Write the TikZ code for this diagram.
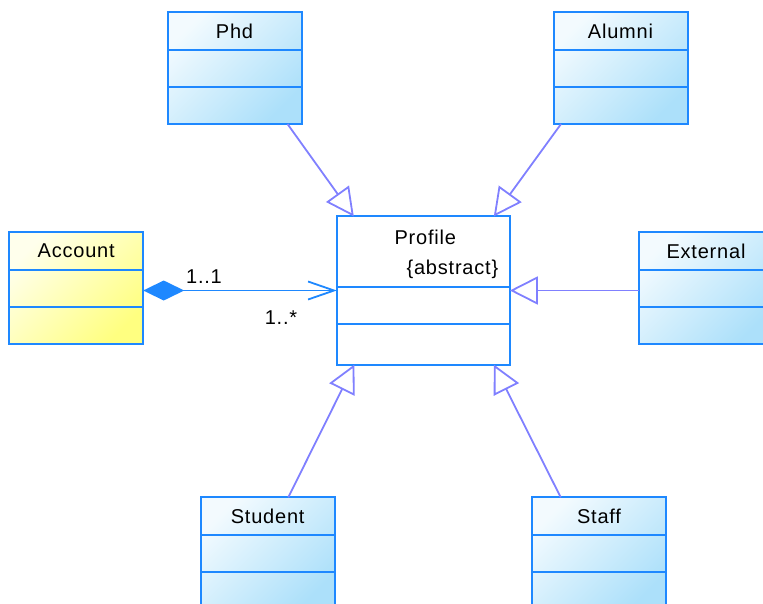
\documentclass[tikz,border=0pt]{standalone}
\usepackage{fontspec}
\setmainfont{Liberation Sans}[LetterSpace=4]
\usepackage{tikz}
\usetikzlibrary{arrows.meta}
\definecolor{classBorder}{RGB}{30,136,255}
\definecolor{classBlue}{RGB}{172,224,250}
\definecolor{classYellow}{RGB}{255,255,128}
\definecolor{linkColor}{RGB}{128,128,255}

\begin{document}
\begin{tikzpicture}[
  x=1pt, y=-1pt,
  font=\fontsize{20}{24}\selectfont,
  every umlclass/.style={
    draw=classBorder,
    line width=2pt,
    inner sep=0pt,
    outer sep=0pt,
    minimum width=134pt,
    minimum height=112pt,
  },
  blueclass/.style={
    every umlclass,
    top color=classBlue!15,
    bottom color=classBlue,
    shading angle=45,
  },
  yellowclass/.style={
    every umlclass,
    top color=classYellow!15,
    bottom color=classYellow,
    shading angle=45,
  },
  abstractclass/.style={
    every umlclass,
    fill=white,
    minimum width=173pt,
    minimum height=148pt,
  },
  divider/.style={
    draw=classBorder,
    line width=2pt,
  },
  generalization/.style={
    draw=linkColor,
    line width=1.8pt,
    -{Triangle[open,length=28pt,width=28pt]},
  },
  composition/.style={
    draw=classBorder,
    line width=1.8pt,
    {Diamond[length=41pt,width=20pt]}-{Straight Barb[length=26pt,width=18pt]},
  },
  mult/.style={
    inner sep=0pt,
  },
]
\useasboundingbox (0,0) rectangle (763,604);
\clip (0,0) rectangle (763,604);

% classes
\node[blueclass] (phd) at (234.5,68) {};
\node[blueclass] (alumni) at (620.5,68) {};
\node[yellowclass] (account) at (76.2,288) {};
\node[blueclass] (external) at (706,288) {};
\node[blueclass] (student) at (267.7,553.3) {};
\node[blueclass] (staff) at (599,553.3) {};
\node[abstractclass] (profile) at (423.3,290.5) {};

\foreach \c/\t in {phd/Phd,alumni/Alumni,account/Account,
                   external/External,student/Student,staff/Staff} {
  \node (\c-name) at ([yshift=-19pt]\c.north) {\t};
  \draw[divider] ([yshift=-38pt]\c.north west) -- ([yshift=-38pt]\c.north east);
  \draw[divider] ([yshift=-75pt]\c.north west) -- ([yshift=-75pt]\c.north east);
}

\node (profile-name) at ([xshift=2pt,yshift=-21pt]profile.north) {Profile};
\node[anchor=east] (profile-stereo) at ([xshift=-8pt,yshift=-53pt]profile.north east) {\{abstract\}};
\draw[divider] ([yshift=-70pt]profile.north west) -- ([yshift=-70pt]profile.north east);
\draw[divider] ([yshift=-107pt]profile.north west) -- ([yshift=-107pt]profile.north east);

% generalizations
\draw[generalization] ([xshift=53pt]phd.south) -- ([xshift=17pt]profile.north west);
\draw[generalization] ([xshift=-59.5pt]alumni.south) -- ([xshift=-16pt]profile.north east);
\draw[generalization] (external.west |- profile.east) -- (profile.east);
\draw[generalization] ([xshift=20.6pt]student.north) -- ([xshift=17.6pt]profile.south west);
\draw[generalization] ([xshift=-38.3pt]staff.north) -- ([xshift=-16pt]profile.south east);

% association
\draw[composition] (account.east |- profile.west) -- (profile.west);
\node[mult] (mult-one) at (204,277) {1..1};
\node[mult] (mult-many) at (281,318) {1..*};
\end{tikzpicture}
\end{document}
